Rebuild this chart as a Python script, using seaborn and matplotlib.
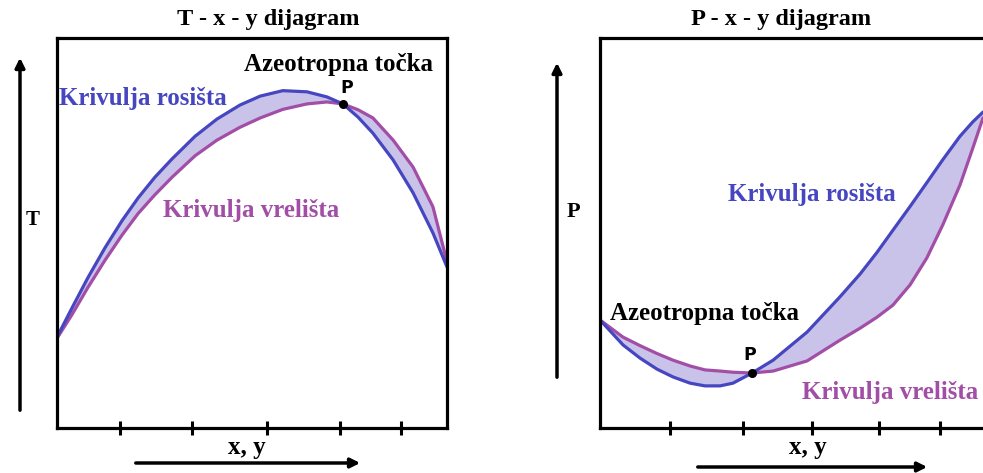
import matplotlib
matplotlib.use('Agg')
import matplotlib.pyplot as plt
import seaborn as sns

# T - x - y (lijevo), vrijednosti ocitane sa slike (0..1)
t_x = [0.0, 0.038, 0.079, 0.123, 0.167, 0.208, 0.251, 0.295, 0.354, 0.410, 0.469,
       0.521, 0.579, 0.641, 0.692, 0.733, 0.772, 0.810, 0.862, 0.913, 0.964, 1.0]
t_rosiste = [0.233, 0.307, 0.385, 0.462, 0.532, 0.590, 0.643, 0.690, 0.748, 0.792, 0.828,
             0.851, 0.865, 0.862, 0.849, 0.831, 0.797, 0.756, 0.687, 0.603, 0.500, 0.413]
t_vreliste = [0.230, 0.290, 0.360, 0.430, 0.495, 0.550, 0.598, 0.643, 0.698, 0.738, 0.771,
              0.795, 0.817, 0.831, 0.836, 0.831, 0.816, 0.795, 0.738, 0.669, 0.567, 0.426]
t_azeo = (0.733, 0.831)
t_ticks = [0.162, 0.346, 0.538, 0.726, 0.882]

# P - x - y (desno)
p_x = [0.0, 0.059, 0.103, 0.146, 0.187, 0.231, 0.269, 0.308, 0.341, 0.390, 0.444,
       0.531, 0.615, 0.667, 0.710, 0.751, 0.795, 0.838, 0.879, 0.923, 0.956, 0.982]
p_rosiste = [0.277, 0.213, 0.179, 0.151, 0.131, 0.115, 0.108, 0.108, 0.115, 0.141, 0.174,
             0.246, 0.336, 0.395, 0.450, 0.507, 0.568, 0.629, 0.688, 0.748, 0.785, 0.810]
p_vreliste = [0.277, 0.233, 0.211, 0.191, 0.174, 0.159, 0.149, 0.146, 0.143, 0.141, 0.146,
              0.172, 0.225, 0.256, 0.284, 0.315, 0.367, 0.436, 0.521, 0.623, 0.718, 0.795]
p_azeo = (0.390, 0.141)
p_ticks = [0.179, 0.367, 0.544, 0.715, 0.872]

BLUE = '#4646c0'
PURPLE = '#a24ea6'
FILL = '#c9c3ea'
W, H = 983, 473

sns.set_theme(style='white')
plt.rcParams['font.family'] = ['Liberation Serif', 'DejaVu Serif']

fig = plt.figure(figsize=(W / 100, H / 100), dpi=100)

def px(x, y):
    return x / W, 1 - y / H

def make_axes(left_px, xs, dew, boil, azeo, ticks):
    ax = fig.add_axes([left_px / W, (H - 428) / H, 390 / W, 390 / H])
    ax.fill_between(xs, dew, boil, color=FILL, lw=0)
    sns.lineplot(x=xs, y=boil, ax=ax, color=PURPLE, lw=2.3)
    sns.lineplot(x=xs, y=dew, ax=ax, color=BLUE, lw=2.3)
    ax.plot(*azeo, 'o', color='black', ms=5.5, zorder=5)
    ax.set_xlim(0, 1)
    ax.set_ylim(0, 1)
    ax.set_xticks(ticks)
    ax.set_xticklabels([])
    ax.set_yticks([])
    ax.tick_params(axis='x', direction='inout', length=10, width=2.2,
                   color='black', bottom=True)
    for s in ax.spines.values():
        s.set_color('black')
        s.set_linewidth(2.3)
    return ax

make_axes(57, t_x, t_rosiste, t_vreliste, t_azeo, t_ticks)
make_axes(600, p_x, p_rosiste, p_vreliste, p_azeo, p_ticks)

def arrow(x0, y0, x1, y1):
    fig.add_artist(matplotlib.patches.FancyArrowPatch(
        px(x0, y0), px(x1, y1), transform=fig.transFigure,
        arrowstyle='-|>', mutation_scale=14, lw=2.5, color='black'))

arrow(20, 413, 20, 55)
arrow(133, 463, 363, 463)
arrow(557, 380, 557, 60)
arrow(695, 467, 930, 467)

def label(x, y, s, color='black', size=18, family=None):
    kw = dict(ha='center', va='center', color=color, fontsize=size, fontweight='bold')
    if family:
        kw['family'] = family
    fig.text(*px(x, y), s, **kw)

# lijevi dijagram
label(268, 20, 'T - x - y dijagram', size=17.5)
label(338, 65, 'Azeotropna točka')
label(347, 88, 'P', size=12.5, family=['DejaVu Sans'])
label(143, 98, 'Krivulja rosišta', BLUE)
label(251, 210, 'Krivulja vrelišta', PURPLE)
label(33, 220, 'T', size=15)
label(247, 447, 'x, y', size=18)

# desni dijagram
label(781, 20, 'P - x - y dijagram', size=17.5)
label(812, 195, 'Krivulja rosišta', BLUE)
label(573, 212, 'P', size=16)
label(705, 313, 'Azeotropna točka')
label(750, 355, 'P', size=12.5, family=['DejaVu Sans'])
label(890, 393, 'Krivulja vrelišta', PURPLE)
label(808, 447, 'x, y', size=18)

fig.savefig('out.png', dpi=100)
